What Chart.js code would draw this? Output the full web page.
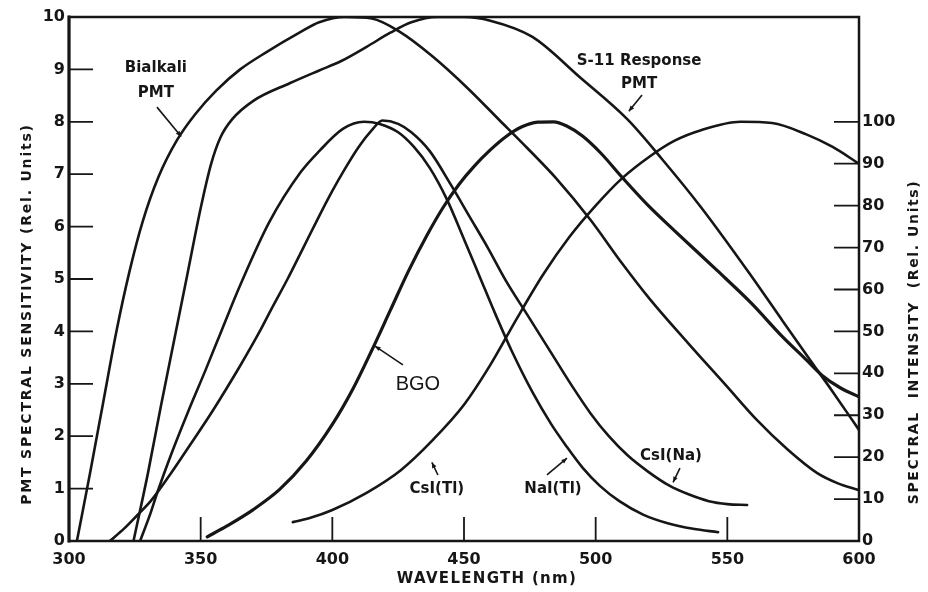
<!DOCTYPE html>
<html>
<head>
<meta charset="utf-8">
<title>Scintillator emission vs PMT response</title>
<script src="https://cdn.jsdelivr.net/npm/chart.js@4.4.1/dist/chart.umd.min.js"></script>
<style>
  html, body { margin: 0; padding: 0; background: #fff; }
</style>
</head>
<body>
<canvas id="spectra" width="928" height="592"></canvas>
<script>
// PMT spectral sensitivity, left axis (rel. units 0-10)
let bialkaliNm  = [303, 308, 313, 318, 323, 328, 334, 341, 348, 356, 365, 375, 387.5, 395, 405, 415, 425.5, 438, 451, 463.5, 474, 485, 498, 510, 520.5, 535, 550, 561, 573, 584, 592, 600];
let bialkaliVal = [0, 1.3, 2.65, 4.0, 5.15, 6.1, 6.95, 7.65, 8.15, 8.6, 9.0, 9.33, 9.7, 9.9, 10.0, 9.97, 9.72, 9.25, 8.66, 8.03, 7.5, 6.92, 6.13, 5.3, 4.62, 3.78, 2.94, 2.32, 1.74, 1.3, 1.1, 0.97];

let s11Nm  = [324.5, 330, 335, 340, 345, 350, 354, 357.5, 362, 370, 384, 395, 403, 413, 422, 430, 440, 450, 460, 476, 494, 512, 525, 540, 558.5, 571, 581.5, 590, 600];
let s11Val = [0, 1.3, 2.6, 3.85, 5.1, 6.35, 7.2, 7.7, 8.05, 8.4, 8.74, 8.98, 9.15, 9.43, 9.7, 9.9, 10.0, 10.0, 9.93, 9.62, 8.85, 8.05, 7.3, 6.37, 5.1, 4.2, 3.45, 2.85, 2.12];

// scintillator emission, right axis (rel. units 0-100)
let csiTlNm  = [385, 392, 400, 413, 426, 438, 450, 460, 470, 480, 490, 500, 510, 520, 530, 540, 555, 567, 580, 590, 600];
let csiTlVal = [4.5, 5.6, 7.4, 11.5, 16.9, 24, 32.5, 42, 53, 63.5, 72.5, 80, 86.5, 91.5, 95.5, 98, 100, 99.7, 97, 94, 90];

let bgoNm  = [352.5, 360, 370, 380, 390, 400, 408, 415, 422, 429, 436, 442, 448, 454, 460, 466, 472, 478, 484, 489, 495, 502, 510, 520, 530, 546, 559, 571, 580, 586, 593, 600];
let bgoVal = [1, 3.6, 7.5, 12.3, 19, 27.8, 36.5, 45.5, 55, 64.5, 73, 79.5, 85, 89.5, 93.3, 96.5, 98.8, 99.9, 100, 99, 96.6, 92.5, 86.8, 80, 74, 64.6, 56.8, 48.7, 43.2, 39.5, 36.5, 34.4];

let naiNm  = [327, 331, 333.5, 339, 345, 352, 358, 365, 376, 388, 395, 404, 412, 418, 425, 431, 437, 443.5, 450, 456, 462, 468, 476, 483, 489, 495, 501.5, 509, 518, 527, 537, 546.5];
let naiVal = [0, 6.7, 11.5, 21, 30.5, 41, 50.3, 61, 76, 88, 93, 98.3, 100, 99.5, 97.5, 94, 89, 81.5, 72, 63, 54, 45.5, 35.5, 28, 22.5, 17.5, 13.2, 9.5, 6.3, 4.3, 2.9, 2.1];

let csiNaNm  = [315.5, 321, 326, 331, 338, 345, 355, 365, 372, 377, 383, 389, 395, 400, 405, 410, 415, 419, 425, 430, 437, 445, 452, 459, 466, 474, 483, 491, 498, 505, 512, 520, 528, 535, 543, 550, 557.5];
let csiNaVal = [0, 3, 6.2, 9.5, 15.5, 22, 31.5, 41.8, 49.5, 55.5, 62.5, 70, 77.5, 83.5, 89, 94, 98, 100.3, 99.5, 97.5, 93, 85, 77.5, 70, 62, 54, 45, 37, 30.5, 25, 20.5, 16.5, 13.2, 11.2, 9.5, 8.8, 8.6];

// curve labels, placed in (nm, left-axis units)
let curveLabels = [
  { lines: ['Bialkali', 'PMT'], x: 333, y: [9.02, 8.55], from: [333.4, 8.28], to: [342.6, 7.72] },
  { lines: ['S-11 Response', 'PMT'], x: 516.5, y: [9.16, 8.72], from: [517.6, 8.51], to: [512.6, 8.2] },
  { lines: ['BGO'], x: 432.5, y: [2.98], from: [426.8, 3.36], to: [416.2, 3.72], plain: true },
  { lines: ['CsI(Tl)'], x: 439.7, y: [0.99], from: [440.1, 1.26], to: [437.8, 1.5] },
  { lines: ['NaI(Tl)'], x: 483.8, y: [0.99], from: [481.5, 1.26], to: [489.1, 1.58] },
  { lines: ['CsI(Na)'], x: 528.6, y: [1.62], from: [532, 1.39], to: [529.4, 1.12] }
];

const ink = '#161616';
const boldFont = 'bold 15px "DejaVu Sans"';

function pts(nm, vals) {
  return nm.map((x, i) => ({ x: x, y: vals[i] }));
}

function arrow(ctx, x1, y1, x2, y2) {
  const ang = Math.atan2(y2 - y1, x2 - x1);
  ctx.beginPath();
  ctx.moveTo(x1, y1);
  ctx.lineTo(x2, y2);
  ctx.stroke();
  ctx.beginPath();
  ctx.moveTo(x2, y2);
  ctx.lineTo(x2 - 6 * Math.cos(ang - 0.4), y2 - 6 * Math.sin(ang - 0.4));
  ctx.lineTo(x2 - 6 * Math.cos(ang + 0.4), y2 - 6 * Math.sin(ang + 0.4));
  ctx.closePath();
  ctx.fill();
}

function rotatedText(ctx, text, x, y, font, spacing) {
  ctx.save();
  ctx.translate(x, y);
  ctx.rotate(-Math.PI / 2);
  ctx.font = font;
  ctx.letterSpacing = spacing;
  ctx.textAlign = 'center';
  ctx.textBaseline = 'middle';
  ctx.fillText(text, 0, 0);
  ctx.restore();
}

// frame, inward tick marks, axis titles and curve labels
const decorations = {
  id: 'decorations',
  afterDraw(chart) {
    const { ctx, chartArea: a, scales } = chart;
    const sx = scales.x, sy = scales.y, sy2 = scales.y2;
    ctx.save();
    ctx.strokeStyle = ink;
    ctx.fillStyle = ink;
    ctx.lineCap = 'square';

    ctx.lineWidth = 2.5;
    ctx.strokeRect(a.left, a.top, a.right - a.left, a.bottom - a.top);
    ctx.lineWidth = 3;
    ctx.beginPath();
    ctx.moveTo(a.left, a.top);
    ctx.lineTo(a.left, a.bottom);
    ctx.stroke();

    ctx.lineWidth = 1.8;
    ctx.lineCap = 'butt';
    ctx.beginPath();
    sy.ticks.forEach(t => {
      if (t.value <= 0 || t.value >= 10) return;
      const py = sy.getPixelForValue(t.value);
      ctx.moveTo(a.left, py);
      ctx.lineTo(a.left + 24, py);
    });
    sy2.ticks.forEach(t => {
      if (t.value <= 0 || t.value > 100) return;
      const py = sy2.getPixelForValue(t.value);
      ctx.moveTo(a.right, py);
      ctx.lineTo(a.right - 25, py);
    });
    sx.ticks.forEach(t => {
      if (t.value <= 300 || t.value >= 600) return;
      const px = sx.getPixelForValue(t.value);
      ctx.moveTo(px, a.bottom);
      ctx.lineTo(px, a.bottom - 24);
    });
    ctx.stroke();

    // axis titles
    rotatedText(ctx, 'PMT SPECTRAL SENSITIVITY (Rel. Units)', 27, 314, 'bold 14px "DejaVu Sans"', '1.8px');
    rotatedText(ctx, 'SPECTRAL  INTENSITY  (Rel. Units)', 914, 342, 'bold 14px "DejaVu Sans"', '1.6px');
    ctx.font = 'bold 15px "DejaVu Sans"';
    ctx.letterSpacing = '1.3px';
    ctx.textAlign = 'center';
    ctx.textBaseline = 'middle';
    ctx.fillText('WAVELENGTH (nm)', 487, 579);
    ctx.letterSpacing = '0px';

    // curve labels with pointer arrows
    ctx.lineWidth = 1.6;
    curveLabels.forEach(l => {
      ctx.font = l.plain ? '20px "Liberation Sans"' : boldFont;
      l.lines.forEach((txt, i) => {
        ctx.fillText(txt, sx.getPixelForValue(l.x), sy.getPixelForValue(l.y[i]));
      });
      arrow(ctx,
        sx.getPixelForValue(l.from[0]), sy.getPixelForValue(l.from[1]),
        sx.getPixelForValue(l.to[0]), sy.getPixelForValue(l.to[1]));
    });
    ctx.restore();
  }
};

const lineStyle = {
  borderColor: ink,
  borderWidth: 2.6,
  pointRadius: 0,
  fill: false,
  cubicInterpolationMode: 'monotone',
  borderCapStyle: 'round',
  borderJoinStyle: 'round'
};

const tickFont = { family: 'DejaVu Sans', weight: 'bold', size: 16 };
const noGrid = { display: false, drawTicks: false };

let chart = new Chart(document.getElementById('spectra'), {
  type: 'line',
  data: {
    datasets: [
      Object.assign({ label: 'Bialkali PMT', data: pts(bialkaliNm, bialkaliVal), yAxisID: 'y' }, lineStyle),
      Object.assign({ label: 'S-11 Response PMT', data: pts(s11Nm, s11Val), yAxisID: 'y' }, lineStyle),
      Object.assign({ label: 'CsI(Tl)', data: pts(csiTlNm, csiTlVal), yAxisID: 'y2' }, lineStyle),
      Object.assign({ label: 'BGO', data: pts(bgoNm, bgoVal), yAxisID: 'y2' }, lineStyle, { borderWidth: 3.2 }),
      Object.assign({ label: 'NaI(Tl)', data: pts(naiNm, naiVal), yAxisID: 'y2' }, lineStyle),
      Object.assign({ label: 'CsI(Na)', data: pts(csiNaNm, csiNaVal), yAxisID: 'y2' }, lineStyle)
    ]
  },
  options: {
    responsive: false,
    animation: false,
    devicePixelRatio: 1,
    layout: { padding: { top: 17, left: 0, right: 0, bottom: 0 } },
    plugins: {
      legend: { display: false },
      tooltip: { enabled: false }
    },
    scales: {
      x: {
        type: 'linear',
        min: 300,
        max: 600,
        grid: noGrid,
        border: { display: false },
        ticks: { stepSize: 50, color: ink, font: tickFont, padding: 9, maxRotation: 0 },
        afterFit: s => { s.height = 51; }
      },
      y: {
        position: 'left',
        min: 0,
        max: 10,
        grid: noGrid,
        border: { display: false },
        ticks: { stepSize: 1, color: ink, font: tickFont, padding: 4 },
        afterFit: s => { s.width = 69; }
      },
      y2: {
        position: 'right',
        min: 0,
        max: 125,
        grid: noGrid,
        border: { display: false },
        ticks: {
          stepSize: 10,
          color: ink,
          font: tickFont,
          padding: 3,
          callback: v => (v <= 100 ? v : '')
        },
        afterFit: s => { s.width = 69; }
      }
    }
  },
  plugins: [decorations]
});
</script>
</body>
</html>
